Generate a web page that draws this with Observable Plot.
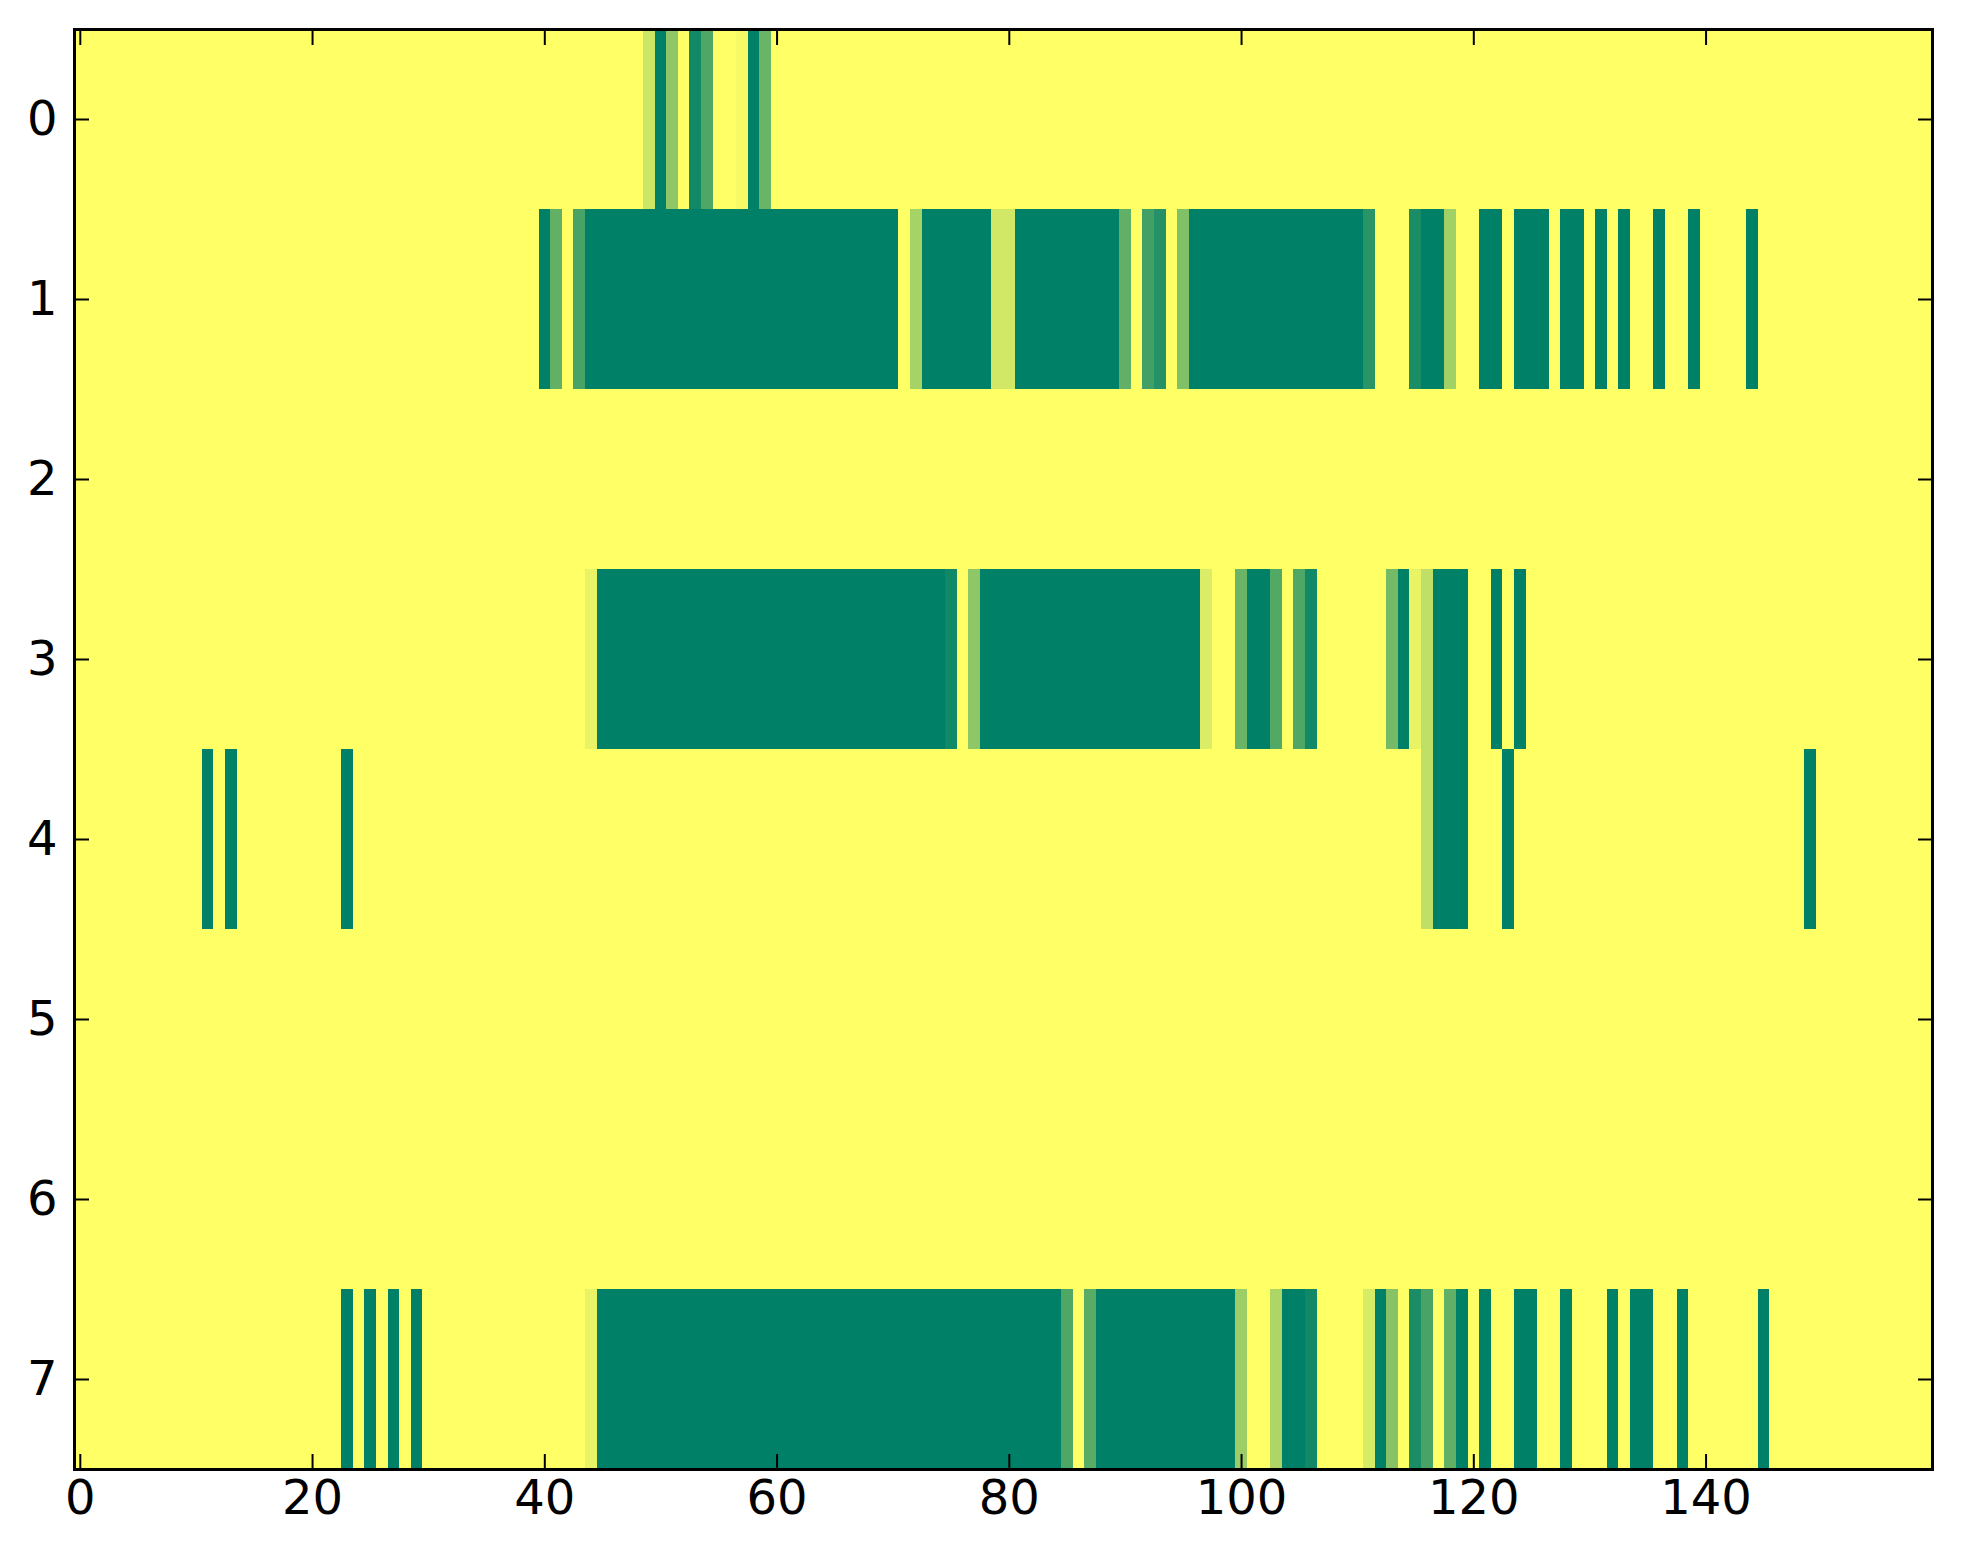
<!DOCTYPE html>
<html><head><meta charset="utf-8">
<script src="https://cdn.jsdelivr.net/npm/d3@7"></script>
<script src="https://cdn.jsdelivr.net/npm/@observablehq/plot@0.6"></script>
<style>
body{margin:0;background:#fff}
#chart svg rect{shape-rendering:crispEdges}
</style>
</head><body><div id="chart"></div>
<script>
const rowLabels = [0,1,2,3,4,5,6,7];
const xTicks = [0,20,40,60,80,100,120,140];

const row0 = [
0,0,0,0,0,0,0,0,0,0,0,0,0,0,0,0,0,0,0,0,
0,0,0,0,0,0,0,0,0,0,0,0,0,0,0,0,0,0,0,0,
0,0,0,0,0,0,0,0,0,20,100,44,0,93,69,0,0,4,100,59,
0,0,0,0,0,0,0,0,0,0,0,0,0,0,0,0,0,0,0,0,
0,0,0,0,0,0,0,0,0,0,0,0,0,0,0,0,0,0,0,0,
0,0,0,0,0,0,0,0,0,0,0,0,0,0,0,0,0,0,0,0,
0,0,0,0,0,0,0,0,0,0,0,0,0,0,0,0,0,0,0,0,
0,0,0,0,0,0,0,0,0,0,0,0,0,0,0,0,0,0,0,0];
const row1 = [
0,0,0,0,0,0,0,0,0,0,0,0,0,0,0,0,0,0,0,0,
0,0,0,0,0,0,0,0,0,0,0,0,0,0,0,0,0,0,0,0,
100,62,0,72,100,100,100,100,100,100,100,100,100,100,100,100,100,100,100,100,
100,100,100,100,100,100,100,100,100,100,100,0,35,100,100,100,100,100,100,18,
18,100,100,100,100,100,100,100,100,100,62,0,75,86,0,50,100,100,100,100,
100,100,100,100,100,100,100,100,100,100,100,84,0,0,0,90,100,100,37,0,
0,100,100,0,100,100,100,0,100,100,0,100,0,100,0,0,100,0,0,100,
0,0,0,0,100,0,0,0,0,0,0,0,0,0,0,0,0,0,0,0];
const row2 = [
0,0,0,0,0,0,0,0,0,0,0,0,0,0,0,0,0,0,0,0,
0,0,0,0,0,0,0,0,0,0,0,0,0,0,0,0,0,0,0,0,
0,0,0,0,0,0,0,0,0,0,0,0,0,0,0,0,0,0,0,0,
0,0,0,0,0,0,0,0,0,0,0,0,0,0,0,0,0,0,0,0,
0,0,0,0,0,0,0,0,0,0,0,0,0,0,0,0,0,0,0,0,
0,0,0,0,0,0,0,0,0,0,0,0,0,0,0,0,0,0,0,0,
0,0,0,0,0,0,0,0,0,0,0,0,0,0,0,0,0,0,0,0,
0,0,0,0,0,0,0,0,0,0,0,0,0,0,0,0,0,0,0,0];
const row3 = [
0,0,0,0,0,0,0,0,0,0,0,0,0,0,0,0,0,0,0,0,
0,0,0,0,0,0,0,0,0,0,0,0,0,0,0,0,0,0,0,0,
0,0,0,0,9,100,100,100,100,100,100,100,100,100,100,100,100,100,100,100,
100,100,100,100,100,100,100,100,100,100,100,100,100,100,100,93,0,44,100,100,
100,100,100,100,100,100,100,100,100,100,100,100,100,100,100,100,100,14,0,0,
59,100,100,68,0,69,93,0,0,0,0,0,0,54,100,9,25,100,100,100,
0,0,100,0,100,0,0,0,0,0,0,0,0,0,0,0,0,0,0,0,
0,0,0,0,0,0,0,0,0,0,0,0,0,0,0,0,0,0,0,0];
const row4 = [
0,0,0,0,0,0,0,0,0,0,0,100,0,100,0,0,0,0,0,0,
0,0,0,100,0,0,0,0,0,0,0,0,0,0,0,0,0,0,0,0,
0,0,0,0,0,0,0,0,0,0,0,0,0,0,0,0,0,0,0,0,
0,0,0,0,0,0,0,0,0,0,0,0,0,0,0,0,0,0,0,0,
0,0,0,0,0,0,0,0,0,0,0,0,0,0,0,0,0,0,0,0,
0,0,0,0,0,0,0,0,0,0,0,0,0,0,0,0,25,100,100,100,
0,0,0,100,0,0,0,0,0,0,0,0,0,0,0,0,0,0,0,0,
0,0,0,0,0,0,0,0,0,100,0,0,0,0,0,0,0,0,0,0];
const row5 = [
0,0,0,0,0,0,0,0,0,0,0,0,0,0,0,0,0,0,0,0,
0,0,0,0,0,0,0,0,0,0,0,0,0,0,0,0,0,0,0,0,
0,0,0,0,0,0,0,0,0,0,0,0,0,0,0,0,0,0,0,0,
0,0,0,0,0,0,0,0,0,0,0,0,0,0,0,0,0,0,0,0,
0,0,0,0,0,0,0,0,0,0,0,0,0,0,0,0,0,0,0,0,
0,0,0,0,0,0,0,0,0,0,0,0,0,0,0,0,0,0,0,0,
0,0,0,0,0,0,0,0,0,0,0,0,0,0,0,0,0,0,0,0,
0,0,0,0,0,0,0,0,0,0,0,0,0,0,0,0,0,0,0,0];
const row6 = [
0,0,0,0,0,0,0,0,0,0,0,0,0,0,0,0,0,0,0,0,
0,0,0,0,0,0,0,0,0,0,0,0,0,0,0,0,0,0,0,0,
0,0,0,0,0,0,0,0,0,0,0,0,0,0,0,0,0,0,0,0,
0,0,0,0,0,0,0,0,0,0,0,0,0,0,0,0,0,0,0,0,
0,0,0,0,0,0,0,0,0,0,0,0,0,0,0,0,0,0,0,0,
0,0,0,0,0,0,0,0,0,0,0,0,0,0,0,0,0,0,0,0,
0,0,0,0,0,0,0,0,0,0,0,0,0,0,0,0,0,0,0,0,
0,0,0,0,0,0,0,0,0,0,0,0,0,0,0,0,0,0,0,0];
const row7 = [
0,0,0,0,0,0,0,0,0,0,0,0,0,0,0,0,0,0,0,0,
0,0,0,100,0,100,0,100,0,100,0,0,0,0,0,0,0,0,0,0,
0,0,0,0,9,100,100,100,100,100,100,100,100,100,100,100,100,100,100,100,
100,100,100,100,100,100,100,100,100,100,100,100,100,100,100,100,100,100,100,100,
100,100,100,100,100,69,0,65,100,100,100,100,100,100,100,100,100,100,100,100,
39,0,0,32,100,100,93,0,0,0,0,16,100,47,0,90,72,0,62,100,
0,100,0,0,100,100,0,0,100,0,0,0,100,0,100,100,0,0,100,0,
0,0,0,0,0,100,0,0,0,0,0,0,0,0,0,0,0,0,0,0];

const rows = [row0,row1,row2,row3,row4,row5,row6,row7];
const columns = row0.map((_, i) => i);
const cells = [];
rows.forEach((vals, r) => vals.forEach((v, c) => cells.push({row: rowLabels[r], col: columns[c], value: v})));

const W = 1963, H = 1564;
const chart = Plot.plot({
  width: W, height: H,
  marginLeft: 74, marginRight: 31, marginTop: 29, marginBottom: 95,
  style: {fontFamily: "DejaVu Sans", fontSize: "48px", color: "black", background: "white"},
  x: {type: "band", domain: columns, padding: 0},
  y: {type: "band", domain: rowLabels, padding: 0},
  color: {type: "linear", domain: [0, 100], range: ["#ffff66", "#008066"], interpolate: "rgb"},
  marks: [
    Plot.cell(cells, {x: "col", y: "row", fill: "value", inset: 0}),
    Plot.axisX({ticks: xTicks, anchor: "bottom", tickSize: 0, tickPadding: 10, label: null}),
    Plot.axisY({ticks: rowLabels, anchor: "left", tickSize: 0, tickPadding: 17, label: null}),
    Plot.axisX({ticks: xTicks, anchor: "bottom", tickSize: 15, dy: -15, fill: "none", strokeWidth: 2, label: null}),
    Plot.axisX({ticks: xTicks, anchor: "top", tickSize: 15, dy: 15, fill: "none", strokeWidth: 2, label: null}),
    Plot.axisY({ticks: rowLabels, anchor: "left", tickSize: 15, dx: 15, fill: "none", strokeWidth: 2, label: null}),
    Plot.axisY({ticks: rowLabels, anchor: "right", tickSize: 15, dx: -15, fill: "none", strokeWidth: 2, label: null}),
    Plot.frame({stroke: "black", strokeWidth: 3})
  ]
});
document.getElementById("chart").appendChild(chart);
</script>
</body></html>
